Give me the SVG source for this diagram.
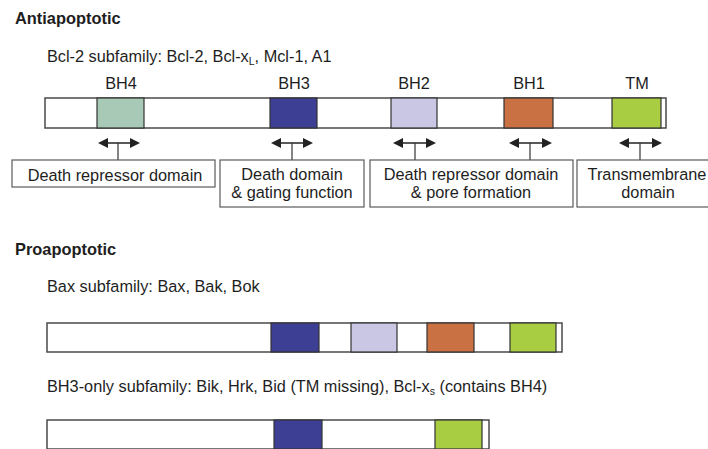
<svg xmlns="http://www.w3.org/2000/svg" width="708" height="449" viewBox="0 0 708 449">
<style>
text{font-family:"Liberation Sans",Arial,sans-serif;fill:#1e1e1e;font-size:16.3px}
.title{font-weight:bold;font-size:16.4px}
.mid{text-anchor:middle}
.bar{fill:#fff;stroke:#4a4a4a;stroke-width:1.5}
.seg{stroke:#333;stroke-width:1.2}
.box{fill:#fff;stroke:#5a5a5a;stroke-width:1.2}
.bh4{fill:#a7c9b5}.bh3{fill:#3d3f95}.bh2{fill:#c9c7e3}.bh1{fill:#c97142}.tm{fill:#a8cd43}
.arr{stroke:#222;stroke-width:1.5;fill:none}
.tick{stroke:#333;stroke-width:1.2}
</style>
<defs>
<marker id="ah" viewBox="0 0 10 10" refX="8" refY="5" markerWidth="12" markerHeight="10" markerUnits="userSpaceOnUse" orient="auto-start-reverse">
<path d="M0,0 L10,5 L0,10 Z" fill="#222"/>
</marker>
</defs>

<text class="title" x="15" y="24">Antiapoptotic</text>

<g id="bcl2">
<text x="47" y="62">Bcl-2 subfamily: Bcl-2, Bcl-x<tspan font-size="10.5" dy="3">L</tspan><tspan dy="-3">, Mcl-1, A1</tspan></text>
<rect class="bar" x="45" y="98" width="621" height="30"/>
<rect class="seg bh4" x="97" y="98" width="47" height="30"/>
<rect class="seg bh3" x="270" y="98" width="47" height="30"/>
<rect class="seg bh2" x="391" y="98" width="46" height="30"/>
<rect class="seg bh1" x="504" y="98" width="49" height="30"/>
<rect class="seg tm" x="612" y="98" width="49" height="30"/>
<text class="mid" x="121" y="89">BH4</text>
<text class="mid" x="294" y="89">BH3</text>
<text class="mid" x="414" y="89">BH2</text>
<text class="mid" x="529" y="89">BH1</text>
<text class="mid" x="637" y="89">TM</text>
</g>

<g id="connectors">
<line class="arr" x1="100" y1="143" x2="138" y2="143" marker-start="url(#ah)" marker-end="url(#ah)"/>
<line class="tick" x1="118" y1="143" x2="118" y2="160"/>
<line class="arr" x1="273" y1="143" x2="311" y2="143" marker-start="url(#ah)" marker-end="url(#ah)"/>
<line class="tick" x1="292" y1="143" x2="292" y2="160"/>
<line class="arr" x1="395" y1="143" x2="434" y2="143" marker-start="url(#ah)" marker-end="url(#ah)"/>
<line class="tick" x1="415" y1="143" x2="415" y2="160"/>
<line class="arr" x1="511" y1="143" x2="550" y2="143" marker-start="url(#ah)" marker-end="url(#ah)"/>
<line class="tick" x1="530" y1="143" x2="530" y2="160"/>
<line class="arr" x1="621" y1="143" x2="660" y2="143" marker-start="url(#ah)" marker-end="url(#ah)"/>
<line class="tick" x1="640" y1="143" x2="640" y2="160"/>
</g>

<g id="box-death-repressor">
<rect class="box" x="12" y="160" width="203" height="27"/>
<text class="mid" x="115" y="181">Death repressor domain</text>
</g>
<g id="box-death-domain">
<rect class="box" x="220" y="160" width="144" height="47"/>
<text class="mid" x="292" y="180">Death domain</text>
<text class="mid" x="292" y="198">&amp; gating function</text>
</g>
<g id="box-pore">
<rect class="box" x="370" y="160" width="203" height="47"/>
<text class="mid" x="471" y="180">Death repressor domain</text>
<text class="mid" x="471" y="198">&amp; pore formation</text>
</g>
<g id="box-tm">
<rect class="box" x="577" y="160" width="140" height="47"/>
<text class="mid" x="647" y="180">Transmembrane</text>
<text class="mid" x="648" y="198">domain</text>
</g>

<text class="title" x="15" y="255">Proapoptotic</text>

<g id="bax">
<text x="47" y="292">Bax subfamily: Bax, Bak, Bok</text>
<rect class="bar" x="47" y="323" width="515" height="29"/>
<rect class="seg bh3" x="271" y="323" width="48" height="29"/>
<rect class="seg bh2" x="351" y="323" width="46" height="29"/>
<rect class="seg bh1" x="427" y="323" width="47" height="29"/>
<rect class="seg tm" x="510" y="323" width="46" height="29"/>
</g>

<g id="bh3only">
<text x="47" y="392">BH3-only subfamily: Bik, Hrk, Bid (TM missing), Bcl-x<tspan font-size="10.5" dy="3">s</tspan><tspan dy="-3"> (contains BH4)</tspan></text>
<rect class="bar" x="47" y="420" width="442" height="29"/>
<rect class="seg bh3" x="274" y="420" width="48" height="29"/>
<rect class="seg tm" x="435" y="420" width="47" height="29"/>
</g>
</svg>
